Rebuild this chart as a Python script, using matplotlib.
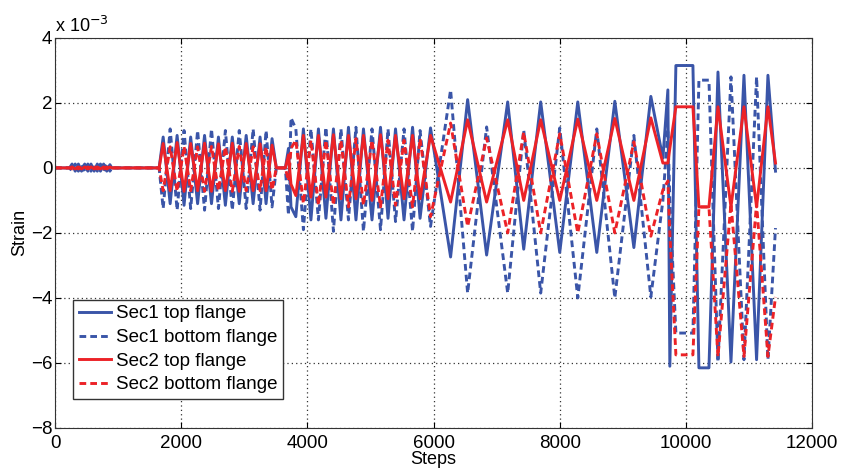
import matplotlib
matplotlib.use('Agg')
import matplotlib.pyplot as plt

plt.rcParams['font.family'] = ['Liberation Sans', 'DejaVu Sans']

# turning points of the strain histories (strain in units of 1e-3)
steps = [0, 230, 270, 320, 370, 420, 470, 520, 570, 620, 670, 720, 770, 820, 870, 900, 1650,
         1714, 1825, 1935, 2045, 2150, 2260, 2370, 2480, 2590, 2700, 2810, 2920, 3030, 3140,
         3250, 3345, 3440, 3508, 3651,
         3700, 3740, 3817, 3937, 4056, 4175, 4294, 4413, 4532, 4651, 4770, 4889, 5024, 5159,
         5278, 5397, 5532, 5667, 5786,
         5952, 6270, 6540, 6841, 7175, 7429, 7698, 8000, 8286, 8587, 8873, 9175, 9444,
         9635, 9714, 9745, 9841, 10111, 10206, 10365, 10508, 10714, 10920, 11120, 11300, 11420]

sec1_top = [0, 0, 0.12, -0.1, 0.12, -0.1, 0.12, -0.1, 0.12, -0.1, 0.12, -0.1, 0.12, -0.1, 0.1, 0, 0,
            0.95, -1.1, 1.0, -1.15, 0.95, -1.1, 1.0, -1.1, 0.95, -1.15, 0.95, -1.1, 1.0, -1.1,
            0.95, -1.1, 0.9, 0, 0,
            0.6, -1.2, -1.5, 1.2, -1.6, 1.2, -1.55, 1.2, -1.6, 1.25, -1.6, 1.2, -1.6, 1.25,
            -1.55, 1.2, -1.6, 1.25, -1.55,
            1.23, -2.74, 2.1, -2.68, 2.03, -2.5, 2.03, -2.6, 2.03, -2.6, 2.05, -2.45, 2.2,
            0.3, 2.4, -6.1, 3.15, 3.15, -6.15, -6.15, 2.95, -5.97, 2.85, -5.9, 2.85, -0.1]

sec1_bot = [0, 0, -0.1, 0.12, -0.1, 0.12, -0.1, 0.12, -0.1, 0.12, -0.1, 0.12, -0.1, 0.12, -0.1, 0, 0,
            -1.25, 1.2, -1.3, 1.15, -1.25, 1.15, -1.3, 1.2, -1.25, 1.15, -1.3, 1.15, -1.25, 1.2,
            -1.3, 1.15, -1.2, 0, 0,
            -1.45, 1.54, 1.2, -1.9, 1.2, -1.6, 1.25, -1.95, 1.2, -1.6, 1.25, -1.95, 1.2, -1.9,
            1.2, -1.65, 1.2, -1.95, 1.15,
            -1.8, 2.4, -3.85, 1.26, -3.85, 1.17, -3.85, 1.23, -4.0, 1.2, -4.0, 1.0, -3.97,
            -1.0, 1.2, -1.0, -5.08, -5.08, 2.7, 2.7, -5.97, 2.8, -5.9, 2.8, -5.9, -1.85]

sec2_top = [0, 0, 0.03, -0.03, 0.03, -0.03, 0.03, -0.03, 0.03, -0.03, 0.03, -0.03, 0.03, -0.03, 0.03, 0, 0,
            0.75, -0.7, 0.78, -0.72, 0.75, -0.7, 0.76, -0.72, 0.74, -0.7, 0.76, -0.72, 0.75, -0.7,
            0.74, -0.7, 0.7, 0, 0,
            0.4, -0.5, -0.85, 1.0, -0.9, 1.0, -0.9, 1.02, -0.95, 1.0, -0.95, 1.0, -1.0, 1.02,
            -0.95, 1.0, -0.95, 1.0, -0.95,
            1.0, -1.05, 1.48, -1.05, 1.48, -1.0, 1.48, -1.0, 1.5, -1.0, 1.52, -1.0, 1.54,
            0.15, 0.15, 0.6, 1.88, 1.88, -1.2, -1.2, 1.88, -1.2, 1.88, -1.2, 1.88, 0.15]

sec2_bot = [0, 0, -0.03, 0.03, -0.03, 0.03, -0.03, 0.03, -0.03, 0.03, -0.03, 0.03, -0.03, 0.03, -0.03, 0, 0,
            -0.7, 0.65, -0.72, 0.66, -0.7, 0.65, -0.72, 0.66, -0.7, 0.65, -0.72, 0.66, -0.7, 0.65,
            -0.7, 0.65, -0.68, 0, 0,
            -0.4, 0.6, 0.85, -1.1, 0.85, -1.15, 0.85, -1.15, 0.85, -1.2, 0.9, -1.15, 0.85, -1.2,
            0.85, -1.15, 0.85, -1.2, 0.9,
            -1.5, 1.38, -1.8, 0.92, -2.0, 1.1, -2.0, 1.05, -2.0, 1.05, -2.0, 0.8, -2.1,
            -0.68, -0.4, -2.0, -5.75, -5.75, -1.2, -1.2, -5.8, -1.1, -5.8, -1.1, -5.8, -3.97]

blue = '#3a55a8'
red = '#ec2227'

fig = plt.figure(figsize=(8.44, 4.7), dpi=100)
ax = fig.add_axes([0.0652, 0.0894, 0.897, 0.830])

ax.plot(steps, sec1_top, color=blue, lw=2.1, label='Sec1 top flange')
ax.plot(steps, sec1_bot, color=blue, lw=2.1, dashes=(2.3, 1.4), label='Sec1 bottom flange')
ax.plot(steps, sec2_top, color=red, lw=2.1, label='Sec2 top flange')
ax.plot(steps, sec2_bot, color=red, lw=2.1, dashes=(2.3, 1.4), label='Sec2 bottom flange')

ax.set_xlim(0, 12000)
ax.set_ylim(-8, 4)
ax.set_xticks(range(0, 12001, 2000))
ax.set_yticks(range(-8, 5, 2))
ax.tick_params(direction='in', top=True, right=True, labelsize=13.5, length=4, pad=2)
ax.tick_params(axis='x', pad=5)
ax.grid(True, color='#333333', linestyle=(0, (1, 2.5)), linewidth=0.9)
for s in ax.spines.values():
    s.set_color('#333333')

ax.set_xlabel('Steps', fontsize=13, labelpad=-1)
ax.set_ylabel('Strain', fontsize=13, labelpad=2)
ax.text(0.0, 1.005, r'x 10$^{-3}$', transform=ax.transAxes, fontsize=13,
        ha='left', va='bottom')

leg = ax.legend(loc='lower left', bbox_to_anchor=(0.012, 0.05), fontsize=13.5,
                handlelength=1.7, handletextpad=0.25, borderpad=0.3, labelspacing=0.35,
                fancybox=False, framealpha=1)
leg.get_frame().set_edgecolor('#333333')
leg.get_frame().set_linewidth(1.0)

fig.savefig('out.png', dpi=100)
